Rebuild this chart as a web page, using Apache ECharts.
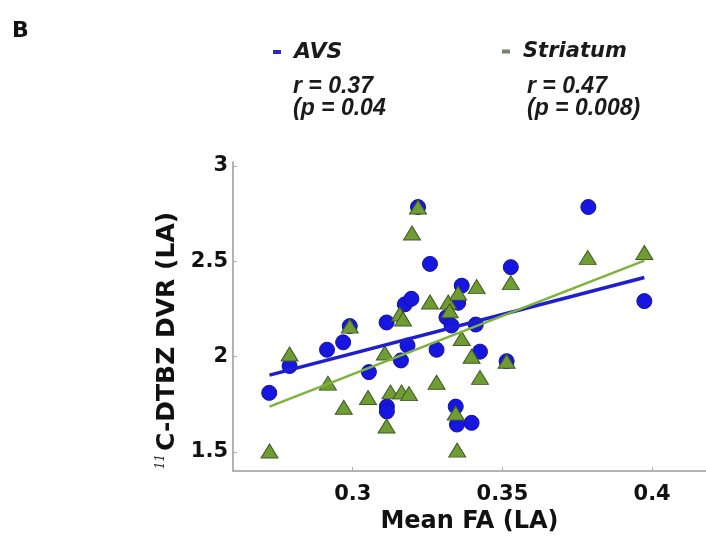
<!DOCTYPE html>
<html>
<head>
<meta charset="utf-8">
<script src="https://cdn.jsdelivr.net/npm/echarts@6/dist/echarts.min.js"></script>
<style>
  html, body { margin: 0; padding: 0; background: #fff; }
  #chart { width: 706px; height: 539px; }
</style>
</head>
<body>
<div id="chart"></div>
<script>
// Mean FA (LA) vs 11C-DTBZ DVR (LA), one point per subject
const avsFA = [0.2721, 0.2789, 0.2914, 0.2968, 0.2990, 0.3054, 0.3113, 0.3114, 0.3114, 0.3161,
               0.3174, 0.3196, 0.3183, 0.3218, 0.3258, 0.3280, 0.3313, 0.3330, 0.3352, 0.3364,
               0.3344, 0.3348, 0.3397, 0.3411, 0.3425, 0.3514, 0.3528, 0.3787, 0.3974];
const avsDVR = [1.810, 1.951, 2.036, 2.075, 2.160, 1.919, 2.179, 1.738, 1.713, 1.980,
                2.274, 2.303, 2.058, 2.784, 2.486, 2.036, 2.206, 2.163, 2.282, 2.372,
                1.738, 1.644, 1.653, 2.168, 2.026, 1.976, 2.469, 2.784, 2.291];

const striatumFA = [0.2722, 0.2789, 0.2917, 0.2970, 0.2990, 0.3051, 0.3107, 0.3113, 0.3126, 0.3163,
                    0.3188, 0.3157, 0.3168, 0.3198, 0.3218, 0.3258, 0.3280, 0.3319, 0.3324, 0.3352,
                    0.3364, 0.3344, 0.3349, 0.3397, 0.3414, 0.3425, 0.3514, 0.3528, 0.3785, 0.3974];
const striatumDVR = [1.505, 2.014, 1.861, 1.735, 2.160, 1.786, 2.019, 1.636, 1.815, 1.815,
                     1.806, 2.223, 2.197, 2.648, 2.784, 2.286, 1.866, 2.286, 2.240, 2.333,
                     2.095, 1.704, 1.510, 2.002, 2.367, 1.891, 1.976, 2.388, 2.520, 2.546];

// Least-squares fit lines, end points
const avsFitFA = [0.2722, 0.3974];
const avsFitDVR = [1.903, 2.415];
const striatumFitFA = [0.2722, 0.3974];
const striatumFitDVR = [1.738, 2.503];

// Axis ticks
const xTicks = [0.3, 0.35, 0.4];
const yTicks = [1.5, 2, 2.5, 3];

// Correlation statistics
const avsStats = ['r = 0.37', '(p = 0.04'];
const striatumStats = ['r = 0.47', '(p = 0.008)'];

const zip = (xs, ys) => xs.map((x, i) => [x, ys[i]]);

const AXIS_FONT = '"DejaVu Sans", sans-serif';
const BLUE = '#1616e0';
const GREEN = '#6f9c33';

const chart = echarts.init(document.getElementById('chart'), null, { renderer: 'canvas' });

const statText = (x, y, text) => ({
  type: 'text',
  left: x,
  top: y,
  style: {
    text: text,
    font: 'italic bold 23px "Liberation Sans", Arial, sans-serif',
    fill: '#1a1a1a'
  }
});

chart.setOption({
  animation: false,
  backgroundColor: '#ffffff',
  title: {
    text: 'B',
    left: 7,
    top: 15,
    textStyle: { fontFamily: AXIS_FONT, fontWeight: 'bold', fontSize: 22, color: '#111' }
  },
  legend: [
    {
      data: ['AVS'],
      left: 268,
      top: 36,
      icon: 'rect',
      itemWidth: 8,
      itemHeight: 4,
      itemStyle: { color: '#2a2ab8', borderWidth: 0 },
      textStyle: {
        fontFamily: AXIS_FONT, fontStyle: 'italic', fontWeight: 'bold',
        fontSize: 22, color: '#1a1a1a', padding: [0, 0, 0, 8]
      }
    },
    {
      data: ['Striatum'],
      left: 497,
      top: 36,
      icon: 'rect',
      itemWidth: 8,
      itemHeight: 4,
      itemStyle: { color: '#72836a', borderWidth: 0 },
      textStyle: {
        fontFamily: AXIS_FONT, fontStyle: 'italic', fontWeight: 'bold',
        fontSize: 21, color: '#1a1a1a', padding: [0, 0, 0, 8]
      }
    }
  ],
  graphic: [
    statText(293, 75, avsStats[0]),
    statText(293, 97, avsStats[1]),
    statText(527, 75, striatumStats[0]),
    statText(527, 97, striatumStats[1])
  ],
  grid: { left: 233, right: 0, top: 162, bottom: 59, containLabel: false },
  xAxis: {
    type: 'value',
    min: 0.26,
    max: 0.418,
    name: 'Mean FA (LA)',
    nameLocation: 'middle',
    nameGap: 33,
    nameTextStyle: { fontFamily: AXIS_FONT, fontWeight: 'bold', fontSize: 24, color: '#111' },
    axisLine: { onZero: false, lineStyle: { color: '#9a9a9a', width: 1.5 } },
    axisTick: { show: true, inside: true, length: 4, customValues: xTicks, lineStyle: { color: '#b0b0b0' } },
    axisLabel: {
      customValues: xTicks,
      margin: 13,
      fontFamily: AXIS_FONT, fontWeight: 'bold', fontSize: 21, color: '#111',
      formatter: v => String(v)
    },
    splitLine: { show: false }
  },
  yAxis: {
    type: 'value',
    min: 1.4,
    max: 3.02,
    name: '{sup|11}{main|C-DTBZ DVR (LA)}',
    nameLocation: 'middle',
    nameRotate: 90,
    nameGap: 34,
    nameTextStyle: {
      padding: [0, 48, 0, 0],
      rich: {
        sup: { fontFamily: '"DejaVu Serif", serif', fontStyle: 'italic', fontSize: 12, color: '#222', verticalAlign: 'top', padding: [0, 3, 0, 0] },
        main: { fontFamily: AXIS_FONT, fontWeight: 'bold', fontSize: 25, color: '#111' }
      }
    },
    axisLine: { onZero: false, lineStyle: { color: '#9a9a9a', width: 1.5 } },
    axisTick: { show: true, inside: true, length: 4, customValues: yTicks, lineStyle: { color: '#b0b0b0' } },
    axisLabel: {
      customValues: yTicks,
      margin: 5,
      fontFamily: AXIS_FONT, fontWeight: 'bold', fontSize: 21, color: '#111',
      formatter: v => String(v)
    },
    splitLine: { show: false }
  },
  series: [
    {
      name: 'AVS',
      type: 'scatter',
      data: zip(avsFA, avsDVR),
      symbol: 'circle',
      symbolSize: 15,
      itemStyle: { color: BLUE, borderColor: '#12129c', borderWidth: 1, opacity: 1 },
      z: 2
    },
    {
      name: 'Striatum',
      type: 'scatter',
      data: zip(striatumFA, striatumDVR),
      symbol: 'triangle',
      symbolSize: [17, 14],
      itemStyle: { color: GREEN, borderColor: '#3f5a22', borderWidth: 1, opacity: 1 },
      z: 3
    },
    {
      name: 'AVS fit',
      type: 'line',
      data: zip(avsFitFA, avsFitDVR),
      showSymbol: false,
      symbol: 'none',
      lineStyle: { color: '#1e1ed0', width: 3.5 },
      z: 4
    },
    {
      name: 'Striatum fit',
      type: 'line',
      data: zip(striatumFitFA, striatumFitDVR),
      showSymbol: false,
      symbol: 'none',
      lineStyle: { color: '#7db33a', width: 2.5 },
      z: 5
    }
  ]
});
</script>
</body>
</html>
